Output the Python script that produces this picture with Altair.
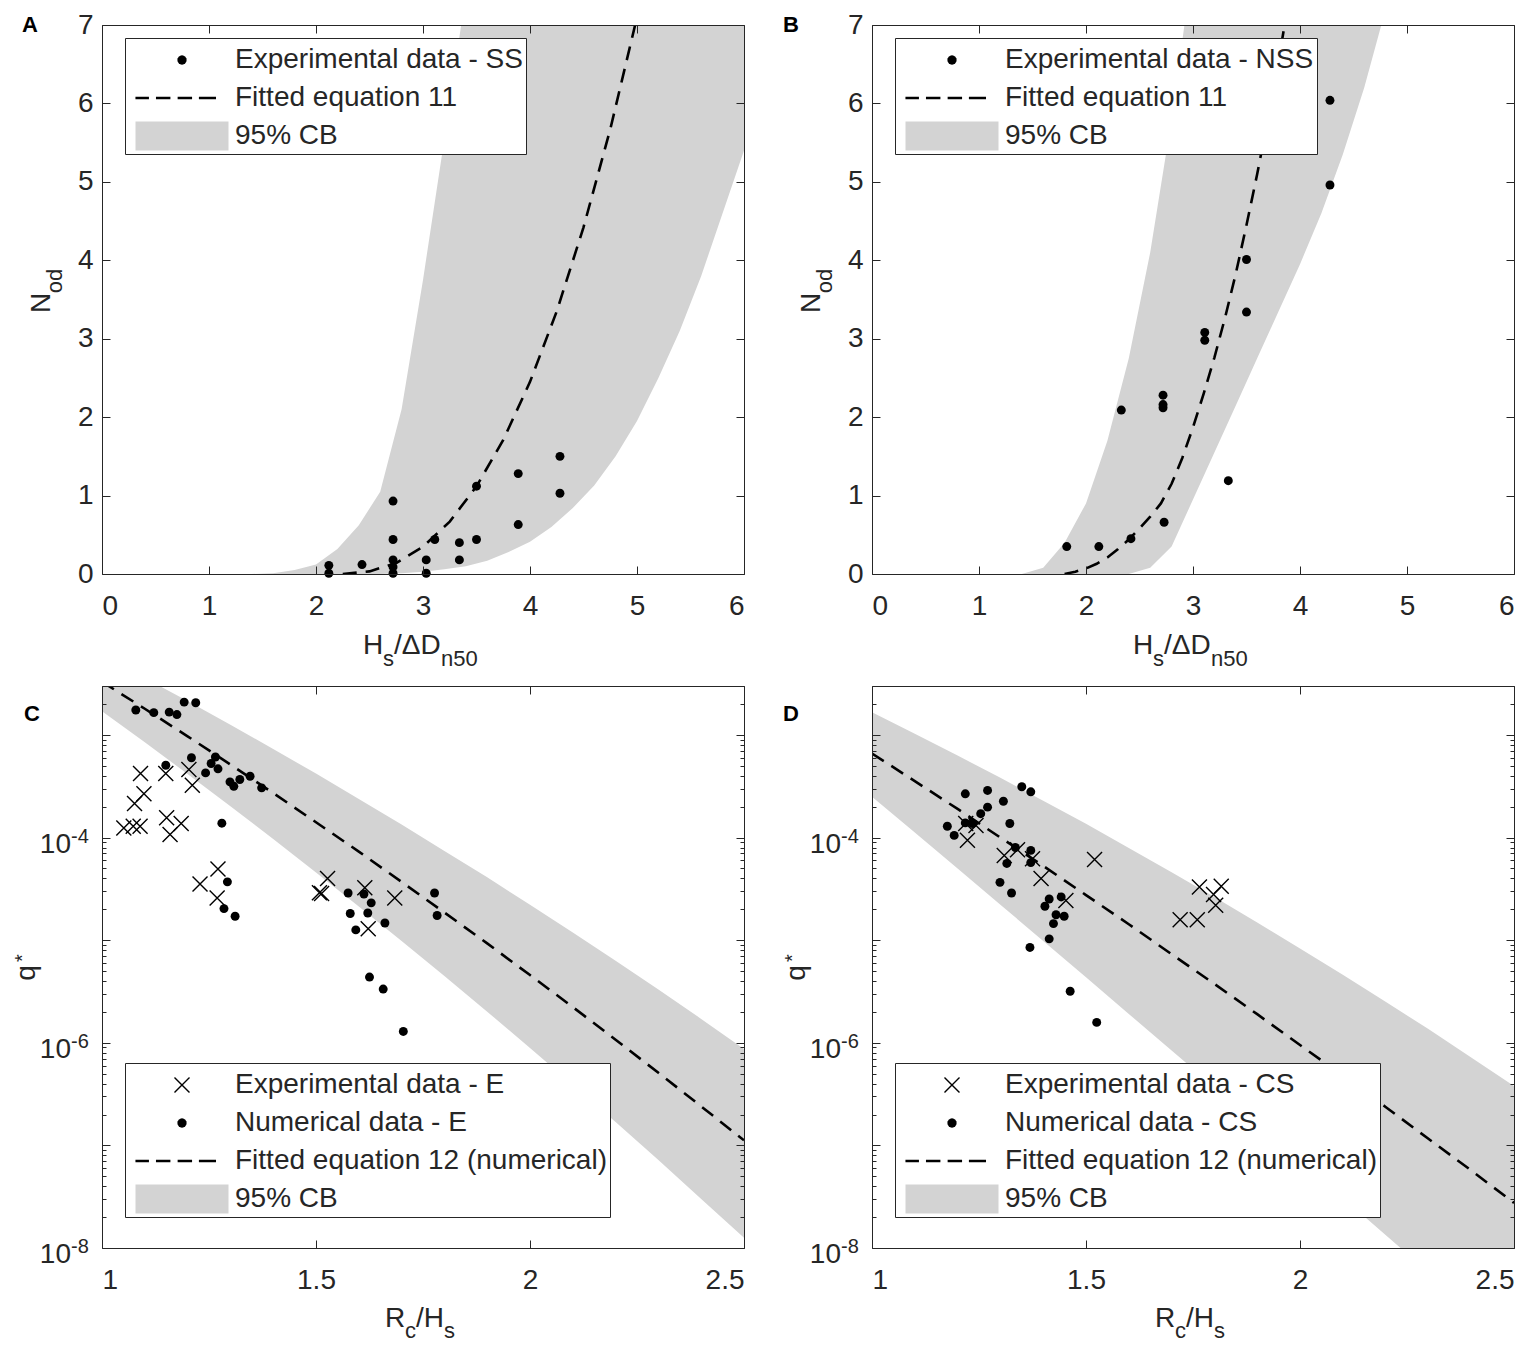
import math
import altair as alt
import pandas as pd

FONT = "Liberation Sans"
INK = "#262626"
BAND = "#d3d3d3"
FS = 28
FS_SUB = 22
W = 642
H_TOP = 549
H_BOT = 562

# ---------------- Panel A : SS ----------------
a_dot_x = [2.12, 2.12, 2.43, 2.72, 2.72, 2.72, 2.72, 2.72, 3.03, 3.03,
           3.11, 3.34, 3.34, 3.50, 3.50, 3.89, 3.89, 4.28, 4.28]
a_dot_y = [0.11, 0.01, 0.12, 0.93, 0.44, 0.18, 0.09, 0.01, 0.18, 0.01,
           0.44, 0.40, 0.18, 0.44, 1.12, 1.28, 0.63, 1.50, 1.03]
a_fit_x = [2.25, 2.5, 2.75, 3.0, 3.25, 3.5, 3.75, 4.0, 4.25, 4.5, 4.75, 5.0, 5.1]
a_fit_y = [0.0, 0.033, 0.141, 0.347, 0.668, 1.118, 1.709, 2.45, 3.35, 4.42, 5.67, 7.10, 7.65]
a_band_x = [1.4, 1.6, 1.8, 2.0, 2.2, 2.4, 2.6, 2.8, 3.0, 3.2, 3.4, 3.6,
            3.8, 4.0, 4.2, 4.4, 4.6, 4.8, 5.0, 5.2, 5.4, 5.6, 5.8, 6.0]
a_band_hi = [0.0, 0.01, 0.05, 0.12, 0.32, 0.62, 1.05, 2.1, 3.75, 5.55, 7.4, 9.3,
             11.2, 13.1, 15.0, 17.0, 19.0, 21.0, 23.0, 25.0, 27.0, 29.0, 31.0, 33.0]
a_band_lo = [0.0, 0.0, 0.0, 0.0, 0.0, 0.0, 0.0, 0.01, 0.03, 0.06, 0.1, 0.17,
             0.28, 0.41, 0.6, 0.84, 1.13, 1.5, 1.95, 2.5, 3.1, 3.8, 4.6, 5.4]
a_legend = ["Experimental data - SS", "Fitted equation 11", "95% CB"]

# ---------------- Panel B : NSS ----------------
b_dot_x = [4.28, 4.28, 3.50, 3.50, 3.11, 3.11, 2.33, 2.72, 2.72, 2.72, 3.33, 2.73, 2.42, 2.12, 1.82]
b_dot_y = [6.04, 4.96, 4.01, 3.34, 3.08, 2.98, 2.09, 2.28, 2.16, 2.12, 1.19, 0.66, 0.45, 0.35, 0.35]
b_fit_x = [1.8, 1.9, 2.0, 2.1, 2.2, 2.3, 2.4, 2.5, 2.6, 2.7, 2.8,
           2.9, 3.0, 3.1, 3.2, 3.3, 3.4, 3.5, 3.6, 3.7, 3.8, 3.9]
b_fit_y = [0.0, 0.03, 0.07, 0.13, 0.21, 0.32, 0.44, 0.58, 0.73, 0.9, 1.15,
           1.48, 1.87, 2.3, 2.76, 3.27, 3.83, 4.45, 5.1, 5.8, 6.55, 7.35]
b_band_x = [1.4, 1.6, 1.8, 2.0, 2.2, 2.4, 2.6, 2.8, 3.0, 3.2,
            3.4, 3.6, 3.8, 4.0, 4.2, 4.4, 4.6, 4.8, 5.0]
b_band_hi = [0.0, 0.08, 0.4, 0.9, 1.7, 2.75, 4.1, 5.8, 7.8, 10.0,
             12.3, 14.6, 17.0, 19.5, 22.0, 24.5, 27.0, 29.5, 32.0]
b_band_lo = [0.0, 0.0, 0.0, 0.0, 0.0, 0.0, 0.08, 0.35, 0.95, 1.55,
             2.15, 2.75, 3.35, 3.95, 4.6, 5.35, 6.2, 7.2, 8.3]
b_legend = ["Experimental data - NSS", "Fitted equation 11", "95% CB"]

# ---------------- Panel C : E ----------------
c_num_x = [1.079, 1.121, 1.157, 1.175, 1.192, 1.219, 1.149, 1.209, 1.265, 1.255, 1.271,
           1.242, 1.299, 1.308, 1.322, 1.346, 1.373, 1.280, 1.293, 1.285, 1.311, 1.575,
           1.612, 1.629, 1.580, 1.621, 1.593, 1.661, 1.777, 1.783, 1.625, 1.657, 1.704]
c_num_q = [1.75e-3, 1.65e-3, 1.67e-3, 1.58e-3, 2.09e-3, 2.06e-3, 5.07e-4, 6.0e-4, 6.1e-4,
           5.27e-4, 4.68e-4, 4.27e-4, 3.49e-4, 3.16e-4, 3.68e-4, 3.96e-4, 3.05e-4, 1.38e-4,
           3.7e-5, 2.03e-5, 1.71e-5, 2.88e-5, 2.82e-5, 2.31e-5, 1.82e-5, 1.84e-5, 1.26e-5,
           1.47e-5, 2.88e-5, 1.74e-5, 4.37e-6, 3.34e-6, 1.29e-6]
c_exp_x = [1.090, 1.098, 1.076, 1.051, 1.073, 1.089, 1.149, 1.203, 1.211, 1.151, 1.159,
           1.185, 1.271, 1.229, 1.269, 1.508, 1.513, 1.527, 1.614, 1.684, 1.622]
c_exp_q = [4.2e-4, 2.68e-4, 2.15e-4, 1.24e-4, 1.29e-4, 1.29e-4, 4.2e-4, 4.6e-4, 3.24e-4,
           1.56e-4, 1.07e-4, 1.37e-4, 4.95e-5, 3.53e-5, 2.58e-5, 2.9e-5, 2.85e-5, 4.0e-5,
           3.24e-5, 2.58e-5, 1.29e-5]
c_grid = [1.0, 1.1, 1.2, 1.3, 1.4, 1.5, 1.6, 1.7, 1.8, 1.9, 2.0, 2.1, 2.2, 2.3, 2.4, 2.5]
c_fit = [3.3e-3, 1.80e-3, 9.7e-4, 5.15e-4, 2.72e-4, 1.41e-4, 7.3e-5, 3.7e-5,
         1.86e-5, 9.3e-6, 4.57e-6, 2.23e-6, 1.07e-6, 5.1e-7, 2.4e-7, 1.12e-7]
c_hi = [5.96e-3, 3.59e-3, 2.14e-3, 1.26e-3, 7.3e-4, 4.2e-4, 2.38e-4, 1.34e-4,
        7.4e-5, 4.1e-5, 2.21e-5, 1.19e-5, 6.3e-6, 3.3e-6, 1.71e-6, 8.7e-7]
c_lo = [1.70e-3, 8.5e-4, 4.16e-4, 2.02e-4, 9.7e-5, 4.57e-5, 2.13e-5, 9.8e-6,
        4.48e-6, 2.01e-6, 8.9e-7, 3.9e-7, 1.69e-7, 7.2e-8, 3.0e-8, 1.26e-8]
c_legend = ["Experimental data - E", "Numerical data - E",
            "Fitted equation 12 (numerical)", "95% CB"]

# ---------------- Panel D : CS ----------------
d_num_x = [1.218, 1.270, 1.307, 1.350, 1.371, 1.270, 1.254, 1.176, 1.192, 1.218,
           1.235, 1.322, 1.335, 1.371, 1.371, 1.315, 1.299, 1.326, 1.414, 1.404,
           1.442, 1.430, 1.449, 1.424, 1.414, 1.369, 1.463, 1.525]
d_num_q = [2.67e-4, 2.88e-4, 2.26e-4, 3.13e-4, 2.79e-4, 1.98e-4, 1.71e-4, 1.29e-4,
           1.05e-4, 1.39e-4, 1.37e-4, 1.37e-4, 8.0e-5, 7.5e-5, 5.7e-5, 5.6e-5,
           3.66e-5, 2.88e-5, 2.52e-5, 2.14e-5, 2.64e-5, 1.77e-5, 1.71e-5, 1.45e-5,
           1.03e-5, 8.5e-6, 3.18e-6, 1.58e-6]
d_exp_x = [1.223, 1.219, 1.243, 1.309, 1.340, 1.375, 1.395, 1.453, 1.520,
           1.765, 1.816, 1.798, 1.803, 1.720, 1.760]
d_exp_q = [9.4e-5, 1.37e-4, 1.31e-4, 6.7e-5, 7.6e-5, 6.2e-5, 4.0e-5, 2.44e-5, 6.1e-5,
           3.3e-5, 3.35e-5, 2.78e-5, 2.19e-5, 1.58e-5, 1.58e-5]
d_fit = [6.6e-4, 3.55e-4, 1.90e-4, 1.00e-4, 5.3e-5, 2.75e-5, 1.43e-5, 7.3e-6,
         3.75e-6, 1.90e-6, 9.5e-7, 4.8e-7, 2.37e-7, 1.16e-7, 5.7e-8, 2.75e-8]
d_hi = [1.66e-3, 1.03e-3, 6.3e-4, 3.82e-4, 2.29e-4, 1.36e-4, 7.9e-5, 4.6e-5,
        2.63e-5, 1.49e-5, 8.3e-6, 4.6e-6, 2.51e-6, 1.36e-6, 7.2e-7, 3.8e-7]
d_lo = [2.5e-4, 1.12e-4, 4.99e-5, 2.22e-5, 9.8e-6, 4.34e-6, 1.91e-6, 8.4e-7,
        3.7e-7, 1.62e-7, 7.1e-8, 3.09e-8, 1.34e-8, 5.8e-9, 2.5e-9, 1.07e-9]
d_legend = ["Experimental data - CS", "Numerical data - CS",
            "Fitted equation 12 (numerical)", "95% CB"]

# ---------------- axis ticks / labels ----------------
lin_x_ticks = [0, 1, 2, 3, 4, 5, 6]
lin_y_ticks = [0, 1, 2, 3, 4, 5, 6, 7]
log_x_ticks = [1, 1.5, 2, 2.5]
log_y_major = [1e-8, 1e-7, 1e-6, 1e-5, 1e-4, 1e-3]
log_y_minor = [m * 10.0 ** k for k in range(-8, -2) for m in range(2, 10) if m * 10.0 ** k <= 3.0001e-3]
log_y_label_vals = [1e-8, 1e-6, 1e-4]
log_y_label_exp = ["-8", "-6", "-4"]


# ---------------- legend glyphs (custom symbol paths, 1 unit = 19 px) ----------------
def _poly(pts):
    return "M" + "L".join(f"{px:.3f},{py:.3f}" for px, py in pts) + "Z"


DOT = _poly([(0.245 * math.cos(2 * math.pi * i / 16), 0.245 * math.sin(2 * math.pi * i / 16)) for i in range(16)])
_a, _e = 0.395, 0.026
CROSS = (_poly([(-_a + _e, -_a - _e), (_a + _e, _a - _e), (_a - _e, _a + _e), (-_a - _e, -_a + _e)])
         + _poly([(-_a - _e, _a - _e), (_a - _e, -_a - _e), (_a + _e, -_a + _e), (-_a + _e, _a + _e)]))
_t = 0.068
DASH = "".join(_poly([(x0, -_t), (x1, -_t), (x1, _t), (x0, _t)])
               for x0, x1 in [(-2.45, -1.74), (-1.37, -0.61), (-0.23, 0.53), (0.89, 1.79)])
PATCH = _poly([(-2.447, -0.763), (2.447, -0.763), (2.447, 0.763), (-2.447, 0.763)])
XMARK = "M-1,-1L1,1M-1,1L1,-1"

one = pd.DataFrame({"k": [0]})


def txt(s, x, y, size=FS, angle=0, align="left", weight="normal", color=INK):
    return alt.Chart(one).mark_text(
        text=s, font=FONT, fontSize=size, angle=angle, align=align,
        baseline="alphabetic", fontWeight=weight, color=color,
    ).encode(x=alt.value(x), y=alt.value(y))


def axis(**kw):
    base = dict(title=None, grid=False, labels=False, ticks=False, domain=False,
                zindex=1, tickColor=INK, tickWidth=1, domainColor=INK, domainWidth=1,
                labelFont=FONT, labelFontSize=FS, labelColor=INK)
    base.update(kw)
    return alt.Axis(**base)


def legend_def(ly):
    return alt.Legend(
        title=None, orient="none", legendX=23, legendY=ly, padding=3,
        fillColor="white", strokeColor=INK, symbolSize=1444, symbolStrokeWidth=0,
        symbolOffset=35, labelOffset=34, rowPadding=5, symbolOpacity=1,
        symbolFillColor="black", labelFont=FONT, labelFontSize=FS, labelColor=INK,
        labelLimit=900,
    )


def legend_layer(df, xs, ys, labels, paths, fills, ly, yaxis):
    lg = legend_def(ly)
    return alt.Chart(df).mark_point(filled=True, opacity=0).encode(
        x=alt.X("x:Q", scale=xs, axis=None),
        y=alt.Y("y:Q", scale=ys, axis=yaxis),
        shape=alt.Shape("entry:N", scale=alt.Scale(domain=labels, range=paths), legend=lg),
        fill=alt.Fill("entry:N", scale=alt.Scale(domain=labels, range=fills), legend=lg),
    )


def lin_panel(letter, letter_x, dot_x, dot_y, fit_x, fit_y, bx, bhi, blo, labels):
    H = H_TOP
    xs = alt.Scale(domain=[0, 6], nice=False, zero=False)
    ys = alt.Scale(domain=[0, 7], nice=False, zero=False)
    band_df = pd.DataFrame({"x": bx, "hi": bhi, "lo": blo})
    fit_df = pd.DataFrame({"x": fit_x, "y": fit_y})
    dot_df = pd.DataFrame({"x": dot_x, "y": dot_y})
    dot_df["entry"] = labels[0]

    band = alt.Chart(band_df).mark_area(color=BAND, clip=True).encode(
        x=alt.X("x:Q", scale=xs, axis=axis(orient="bottom", values=lin_x_ticks, labels=True,
                                           domain=True, format="d", labelPadding=18, tickSize=0)),
        y=alt.Y("hi:Q", scale=ys, axis=axis(orient="left", values=lin_y_ticks, labels=True,
                                            domain=True, format="d", labelPadding=9, tickSize=0)),
        y2=alt.Y2("lo:Q"),
    )
    fit = alt.Chart(fit_df).mark_line(color="black", strokeWidth=2.6, strokeDash=[14, 9], clip=True).encode(
        x=alt.X("x:Q", scale=xs, axis=axis(orient="top", offset=-H, values=lin_x_ticks, ticks=True, tickSize=8)),
        y=alt.Y("y:Q", scale=ys, axis=axis(orient="right", offset=-W, values=lin_y_ticks, ticks=True, tickSize=8)),
    )
    dots = alt.Chart(dot_df).mark_circle(color="black", size=80, opacity=1).encode(
        x=alt.X("x:Q", scale=xs, axis=axis(orient="bottom", offset=-H, values=lin_x_ticks, ticks=True,
                                           tickSize=8, domain=True)),
        y=alt.Y("y:Q", scale=ys, axis=axis(orient="left", offset=-W, values=lin_y_ticks, ticks=True,
                                           tickSize=8, domain=True)),
    )
    leg = legend_layer(dot_df, xs, ys, labels, [DOT, DASH, PATCH], ["black", "black", BAND], 13, None)
    texts = [
        txt(letter, letter_x, 7, size=22, weight="bold", color="black"),
        txt("H", 261, H + 80), txt("s", 281, H + 92, size=FS_SUB),
        txt("/\u0394D", 292, H + 80), txt("n50", 339, H + 92, size=FS_SUB),
        txt("N", -52, 278, angle=270, align="center"),
        txt("od", -40, 256, size=FS_SUB, angle=270, align="center"),
    ]
    return alt.layer(band, fit, dots, leg, *texts).resolve_axis(
        x="independent", y="independent").properties(width=W, height=H)


def log_panel(letter, letter_x, num_x, num_q, exp_x, exp_q, grid, fit, hi, lo, labels):
    H = H_BOT
    xs = alt.Scale(domain=[1, 2.5], nice=False, zero=False)
    ys = alt.Scale(type="log", domain=[1e-8, 3e-3], nice=False)
    band_df = pd.DataFrame({"x": grid, "hi": hi, "lo": lo})
    fit_df = pd.DataFrame({"x": grid, "y": fit})
    num_df = pd.DataFrame({"x": num_x, "y": num_q})
    exp_df = pd.DataFrame({"x": exp_x, "y": exp_q})
    leg_df = exp_df.copy()
    leg_df["entry"] = labels[0]
    lab_df = pd.DataFrame({"v": log_y_label_vals, "e": log_y_label_exp})

    band = alt.Chart(band_df).mark_area(color=BAND, clip=True).encode(
        x=alt.X("x:Q", scale=xs, axis=axis(orient="bottom", values=log_x_ticks, labels=True,
                                           domain=True, format="~g", labelPadding=18, tickSize=0)),
        y=alt.Y("hi:Q", scale=ys, axis=axis(orient="left", values=log_y_major, domain=True, tickSize=0)),
        y2=alt.Y2("lo:Q"),
    )
    fitl = alt.Chart(fit_df).mark_line(color="black", strokeWidth=2.6, strokeDash=[14, 9], clip=True).encode(
        x=alt.X("x:Q", scale=xs, axis=axis(orient="top", offset=-H, values=log_x_ticks, ticks=True, tickSize=8)),
        y=alt.Y("y:Q", scale=ys, axis=axis(orient="right", offset=-W, values=log_y_major, ticks=True, tickSize=8)),
    )
    nums = alt.Chart(num_df).mark_circle(color="black", size=80, opacity=1).encode(
        x=alt.X("x:Q", scale=xs, axis=axis(orient="bottom", offset=-H, values=log_x_ticks, ticks=True,
                                           tickSize=8, domain=True)),
        y=alt.Y("y:Q", scale=ys, axis=axis(orient="left", offset=-W, values=log_y_major, ticks=True,
                                           tickSize=8, domain=True)),
    )
    exps = alt.Chart(exp_df).mark_point(shape=XMARK, size=225, filled=False, strokeWidth=1.4,
                                        color="black", opacity=1).encode(
        x=alt.X("x:Q", scale=xs, axis=None),
        y=alt.Y("y:Q", scale=ys, axis=axis(orient="right", offset=-W, values=log_y_minor, ticks=True, tickSize=4)),
    )
    leg = legend_layer(leg_df, xs, ys, labels, [CROSS, DOT, DASH, PATCH],
                       ["black", "black", "black", BAND], 377,
                       axis(orient="left", offset=-W, values=log_y_minor, ticks=True, tickSize=4))
    lab10 = alt.Chart(lab_df).mark_text(text="10", font=FONT, fontSize=FS, align="right",
                                        baseline="alphabetic", dy=15, color=INK).encode(
        x=alt.value(-31), y=alt.Y("v:Q", scale=ys, axis=None))
    labexp = alt.Chart(lab_df).mark_text(font=FONT, fontSize=20, align="left",
                                         baseline="alphabetic", dy=5, color=INK).encode(
        x=alt.value(-31), y=alt.Y("v:Q", scale=ys, axis=None), text=alt.Text("e:N"))
    texts = [
        txt(letter, letter_x, 35, size=22, weight="bold", color="black"),
        txt("R", 283, H + 79), txt("c", 303, H + 90, size=FS_SUB),
        txt("/H", 314, H + 79), txt("s", 342, H + 90, size=FS_SUB),
        txt("q", -67, 287, angle=270, align="center"),
        txt("*", -73, 272, size=20, angle=270, align="center"),
    ]
    return alt.layer(band, fitl, nums, exps, leg, lab10, labexp, *texts).resolve_axis(
        x="independent", y="independent").properties(width=W, height=H)


pA = lin_panel("A", -80, a_dot_x, a_dot_y, a_fit_x, a_fit_y, a_band_x, a_band_hi, a_band_lo, a_legend)
pB = lin_panel("B", -89, b_dot_x, b_dot_y, b_fit_x, b_fit_y, b_band_x, b_band_hi, b_band_lo, b_legend)
pC = log_panel("C", -78, c_num_x, c_num_q, c_exp_x, c_exp_q, c_grid, c_fit, c_hi, c_lo, c_legend)
pD = log_panel("D", -89, d_num_x, d_num_q, d_exp_x, d_exp_q, c_grid, d_fit, d_hi, d_lo, d_legend)

chart = alt.concat(pA, pB, pC, pD, columns=2).properties(
    spacing={"row": 112, "column": 128},
    bounds="flush",
    padding={"left": 5, "top": 3, "right": 4, "bottom": 0},
).resolve_scale(shape="independent", fill="independent").configure_view(stroke=None)

chart.save("out.html", embed_options={"renderer": "svg", "actions": False})
